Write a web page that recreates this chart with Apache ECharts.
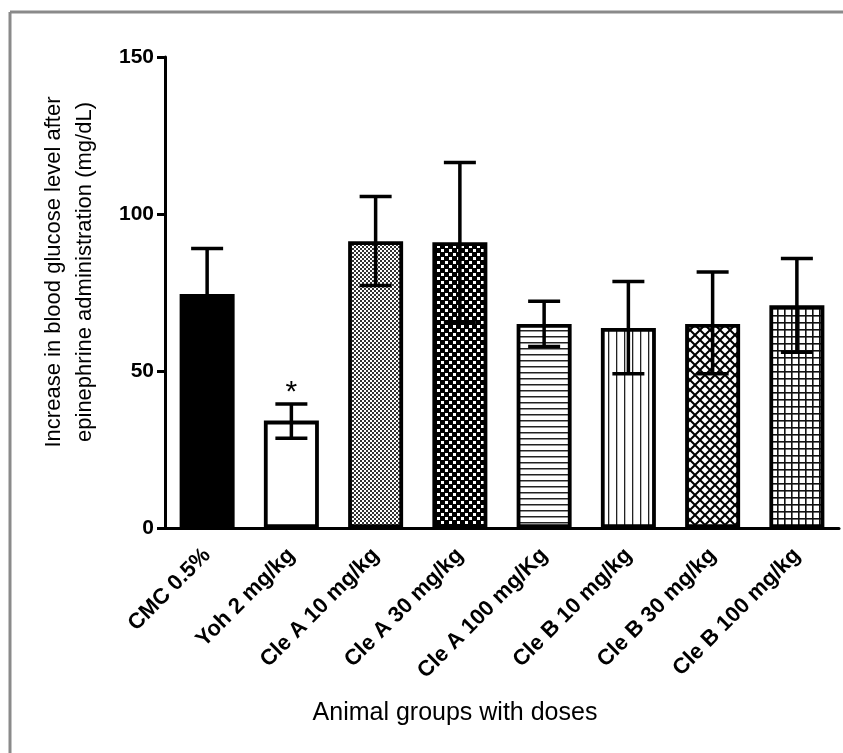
<!DOCTYPE html>
<html>
<head>
<meta charset="utf-8">
<script src="https://cdn.jsdelivr.net/npm/echarts@6/dist/echarts.min.js"></script>
<style>html,body{margin:0;padding:0;background:#fff}#c{width:843px;height:753px}</style>
</head>
<body>
<div id="c"></div>
<script>
var categories = ['CMC 0.5%','Yoh 2 mg/kg','Cle A 10 mg/kg','Cle A 30 mg/kg','Cle A 100 mg/Kg','Cle B 10 mg/kg','Cle B 30 mg/kg','Cle B 100 mg/kg'];
var means = [74.5, 34.2, 91.3, 91.0, 65.0, 63.7, 65.0, 70.9];
var errUpper = [89.0, 39.5, 105.6, 116.4, 72.2, 78.5, 81.5, 85.8];
var errLower = [60.0, 28.6, 77.2, 65.5, 57.8, 49.1, 49.1, 56.0];
var significance = ['', '*', '', '', '', '', '', ''];
var patterns = ['solid','none','fineChecker','checker','hlines','vlines','diamond','grid'];
var yTicks = [0, 50, 100, 150];
var yTitle = 'Increase in blood glucose level after\nepinephrine administration (mg/dL)';
var xTitle = 'Animal groups with doses';

function makePattern(kind){
  var c = document.createElement('canvas');
  var ctx;
  if (kind === 'fineChecker'){
    c.width = 4; c.height = 4; ctx = c.getContext('2d');
    ctx.fillStyle = '#fff'; ctx.fillRect(0,0,4,4);
    ctx.fillStyle = '#333'; ctx.fillRect(0,0,2,2); ctx.fillRect(2,2,2,2);
  } else if (kind === 'checker'){
    c.width = 8; c.height = 8; ctx = c.getContext('2d');
    ctx.fillStyle = '#000'; ctx.fillRect(0,0,8,8);
    ctx.fillStyle = '#fff'; ctx.fillRect(1,1,3,3); ctx.fillRect(5,5,3,3);
  } else if (kind === 'hlines'){
    c.width = 6; c.height = 6; ctx = c.getContext('2d');
    ctx.fillStyle = '#fff'; ctx.fillRect(0,0,6,6);
    ctx.fillStyle = '#222'; ctx.fillRect(0,0,6,1.5);
  } else if (kind === 'vlines'){
    c.width = 8; c.height = 8; ctx = c.getContext('2d');
    ctx.fillStyle = '#fff'; ctx.fillRect(0,0,8,8);
    ctx.fillStyle = '#222'; ctx.fillRect(0,0,1.3,8);
  } else if (kind === 'diamond'){
    c.width = 10; c.height = 10; ctx = c.getContext('2d');
    ctx.fillStyle = '#fff'; ctx.fillRect(0,0,10,10);
    ctx.strokeStyle = '#000'; ctx.lineWidth = 2;
    ctx.beginPath();
    ctx.moveTo(-1,-1); ctx.lineTo(11,11);
    ctx.moveTo(11,-1); ctx.lineTo(-1,11);
    ctx.stroke();
  } else if (kind === 'grid'){
    c.width = 7; c.height = 7; ctx = c.getContext('2d');
    ctx.fillStyle = '#fff'; ctx.fillRect(0,0,7,7);
    ctx.fillStyle = '#111'; ctx.fillRect(0,0,7,1.6); ctx.fillRect(0,0,1.6,7);
  }
  return c;
}
function fillFor(kind){
  if (kind === 'solid') return '#000';
  if (kind === 'none') return '#fff';
  return {image: makePattern(kind), repeat: 'repeat'};
}

var barData = means.map(function(v,i){
  return {value: v, itemStyle: {color: fillFor(patterns[i])}};
});
var errData = categories.map(function(c,i){ return [i, errLower[i], errUpper[i]]; });

var chart = echarts.init(document.getElementById('c'), null, {renderer:'canvas'});
chart.setOption({
  animation: false,
  backgroundColor: '#fff',
  grid: {left: 165, right: 4, top: 57, bottom: 225, containLabel: false},
  graphic: [
    {type:'line', shape:{x1:10, y1:12, x2:843, y2:12}, style:{stroke:'#8a8a8a', lineWidth:3}, silent:true},
    {type:'line', shape:{x1:10, y1:12, x2:10, y2:753}, style:{stroke:'#8a8a8a', lineWidth:3}, silent:true},
    {type:'text', x:69, y:272, rotation:Math.PI/2, silent:true,
     style:{text:yTitle, textAlign:'center', textVerticalAlign:'middle', fill:'#000', font:'22px Liberation Sans, Arial', lineHeight:31}},
    {type:'text', x:455, y:713, silent:true,
     style:{text:xTitle, textAlign:'center', textVerticalAlign:'middle', fill:'#000', font:'25px Liberation Sans, Arial'}}
  ],
  xAxis: {
    type: 'category',
    data: categories,
    axisLine: {lineStyle:{color:'#000', width:3}},
    axisTick: {alignWithLabel:true, length:9, lineStyle:{color:'#000', width:2}},
    axisLabel: {rotate:45, margin:24, color:'#000', fontFamily:'Liberation Sans, Arial', fontWeight:'bold', fontSize:22, interval:0}
  },
  yAxis: {
    type: 'value',
    min: yTicks[0], max: yTicks[yTicks.length-1], interval: 50,
    splitLine: {show:false},
    axisLine: {show:true, lineStyle:{color:'#000', width:3}},
    axisTick: {show:true, length:8, lineStyle:{color:'#000', width:3}},
    axisLabel: {margin:11, color:'#000', fontFamily:'Liberation Sans, Arial', fontWeight:'bold', fontSize:21}
  },
  series: [
    {
      type: 'bar',
      data: barData,
      barWidth: 55,
      itemStyle: {borderColor:'#000', borderWidth:3.8},
      z: 2
    },
    {
      type: 'custom',
      data: errData,
      z: 5,
      renderItem: function(params, api){
        var i = api.value(0);
        var lo = api.coord([i, api.value(1)]);
        var hi = api.coord([i, api.value(2)]);
        var x = hi[0];
        var hw = 16;
        var st = {stroke:'#000', lineWidth:3.5};
        var children = [
          {type:'line', shape:{x1:x, y1:hi[1], x2:x, y2:lo[1]}, style:st},
          {type:'line', shape:{x1:x-hw, y1:hi[1], x2:x+hw, y2:hi[1]}, style:st},
          {type:'line', shape:{x1:x-hw, y1:lo[1], x2:x+hw, y2:lo[1]}, style:st}
        ];
        if (significance[params.dataIndex]) {
          children.push({type:'text', style:{text: significance[params.dataIndex], x:x, y:hi[1]+4, textAlign:'center', textVerticalAlign:'bottom', fill:'#000', font:'30px Liberation Sans, Arial'}});
        }
        return {type:'group', children: children};
      }
    }
  ]
});
</script>
</body>
</html>
